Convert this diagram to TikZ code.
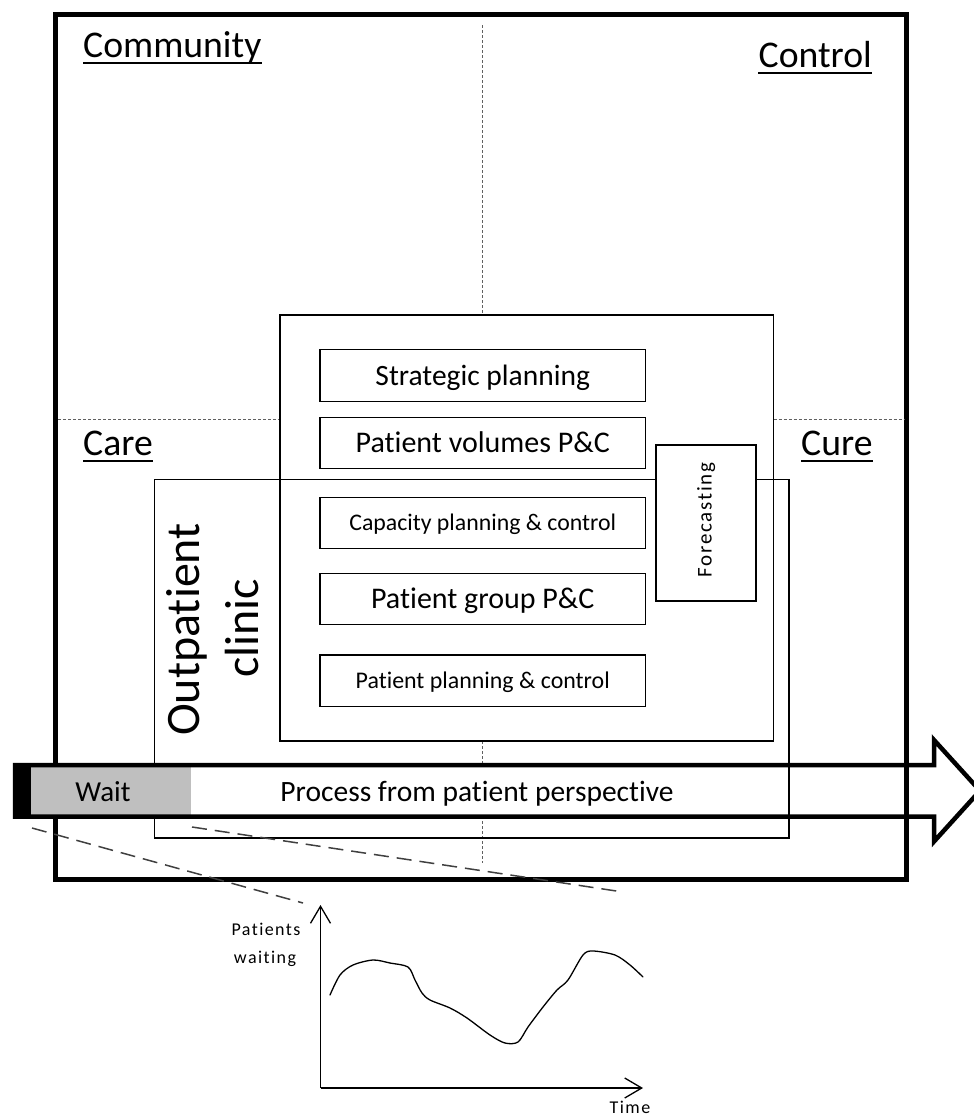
\documentclass[tikz,border=0pt]{standalone}
\usepackage{fontspec}
\setmainfont[Ligatures={NoCommon,NoContextual}]{Carlito}
\newfontfamily\spacedfont[LetterSpace=8,Ligatures={NoCommon,NoContextual}]{Carlito}
\usetikzlibrary{arrows.meta}
\newcommand\fsz[1]{\fontsize{#1}{#1}\selectfont}
\definecolor{waitgray}{HTML}{BFBFBF}
\definecolor{dashgray}{HTML}{606060}
\definecolor{zoomgray}{HTML}{404040}

\begin{document}
\begin{tikzpicture}[x=1pt,y=-1pt,
  frame/.style={line width=5pt},
  thinbox/.style={draw, line width=1.4pt, inner sep=0pt},
  taskbox/.style={thinbox, fill=white, minimum width=325.5pt, minimum height=51.5pt,
    text height=#1, text depth=0pt},
  quadlabel/.style={inner sep=0pt, font=\fsz{37.7}},
  uline/.style={line width=2.2pt},
  finedash/.style={line width=0.9pt, dashgray, dash pattern=on 3pt off 2pt},
  longdash/.style={line width=1.5pt, zoomgray, dash pattern=on 15pt off 8pt},
  plain/.style={inner sep=0pt},
  axis/.style={line width=1.3pt, -{Straight Barb[length=17pt,width=20pt,line width=1.3pt]}}
]
\useasboundingbox (0,0) rectangle (974,1117);

% outer frame
\draw[frame] (55.5,14.5) rectangle (906,879);

% quadrant separators
\coordinate (vtop) at (482,25);
\coordinate (vmid1) at (482,315);
\coordinate (vmid2) at (482,741);
\coordinate (vbot) at (482,863);
\coordinate (hl1) at (58,419);
\coordinate (hl2) at (280,419);
\coordinate (hr1) at (773.5,419);
\coordinate (hr2) at (904,419);
\draw[finedash] (vtop) -- (vmid1);
\draw[finedash] (vmid2) -- (vbot);
\draw[finedash] (hl1) -- (hl2);
\draw[finedash] (hr1) -- (hr2);

% quadrant labels
\node[quadlabel, anchor=base west] (community) at (83,57) {Community};
\node[quadlabel, anchor=base east] (control) at (872,67) {Control};
\node[quadlabel, anchor=base west] (care) at (83,455) {Care};
\node[quadlabel, anchor=base west] (cure) at (801,455) {Cure};
\foreach \n in {community,control,care,cure}
  \draw[uline] ([yshift=-6pt]\n.base west) -- ([yshift=-6pt]\n.base east);

% outpatient clinic and planning framework
\node[thinbox, minimum width=634.5pt, minimum height=358.5pt] (clinic) at (471.75,658.75) {};
\node[thinbox, minimum width=493.5pt, minimum height=426pt] (framework) at (526.75,528) {};

\node[taskbox=19pt, font=\fsz{29.5}] (strat) at (482.75,375.5) {Strategic planning};
\node[taskbox=19.3pt, font=\fsz{30}] (volumes) at (482.75,443) {Patient volumes P\&C};
\node[taskbox=15.3pt, font=\fsz{23.8}] (capacity) at (482.75,523) {Capacity planning \& control};
\node[taskbox=19.3pt, font=\fsz{30}] (group) at (482.75,599) {Patient group P\&C};
\node[taskbox=15.4pt, font=\fsz{23.9}] (patplan) at (482.75,680.75) {Patient planning \& control};

\node[thinbox, fill=white, minimum width=100pt, minimum height=156pt] (forecast) at (706,523) {};
\node[plain, rotate=90, anchor=base, font=\spacedfont\fsz{21}] (fctext) at (711.5,520) {Forecasting};

\node[plain, rotate=90, anchor=base, font=\fsz{48}] (outp1) at (199.5,629.5) {Outpatient};
\node[plain, rotate=90, anchor=base, font=\fsz{48}] (outp2) at (258.5,628.5) {clinic};

% process arrow
\fill[waitgray] (13,765) rectangle (191,816.5);
\fill[white] (191,765) rectangle (763,816.5);
\fill[black] (13,763) rectangle (31,819);
\draw[line width=4.5pt, line join=miter]
  (15,765) -- (934,765) -- (934,740) -- (980,790.75) -- (934,841.5)
  -- (934,816.5) -- (15,816.5) -- cycle;
\node[plain, anchor=base, font=\fsz{29}] (wait) at (103,801) {Wait};
\node[plain, anchor=base, font=\fsz{29.5}] (process) at (477,801) {Process from patient perspective};

% zoom lines towards the waiting graph
\coordinate (d1a) at (32,828);
\coordinate (d1b) at (303,903);
\coordinate (d2a) at (192,827);
\coordinate (d2b) at (623,892);
\draw[longdash] (d1a) -- (d1b);
\draw[longdash] (d2a) -- (d2b);

% waiting graph
\coordinate (origin) at (320.5,1088);
\coordinate (ytop) at (320.5,905);
\coordinate (xend) at (643,1088);
\draw[axis] (origin) -- (ytop);
\draw[axis] (origin) -- (xend);
\draw[line width=1.3pt, line join=round, line cap=round] plot[smooth, tension=0.5] coordinates {
  (330,995) (340,975) (353,965) (373,960) (390,963) (408,967) (415,980)
  (422,993) (430,1000) (450,1008) (467,1018) (490,1035) (505,1043)
  (518,1042) (528,1027) (543,1007) (557,990) (568,980) (583,955)
  (593,951) (615,955) (630,965) (643,977)};
\node[plain, anchor=base, font=\spacedfont\fsz{18}] (ylab1) at (266,935) {Patients};
\node[plain, anchor=base, font=\spacedfont\fsz{18}] (ylab2) at (265,963) {waiting};
\node[plain, anchor=base, font=\spacedfont\fsz{18}] (xlab) at (630,1113) {Time};
\end{tikzpicture}
\end{document}
